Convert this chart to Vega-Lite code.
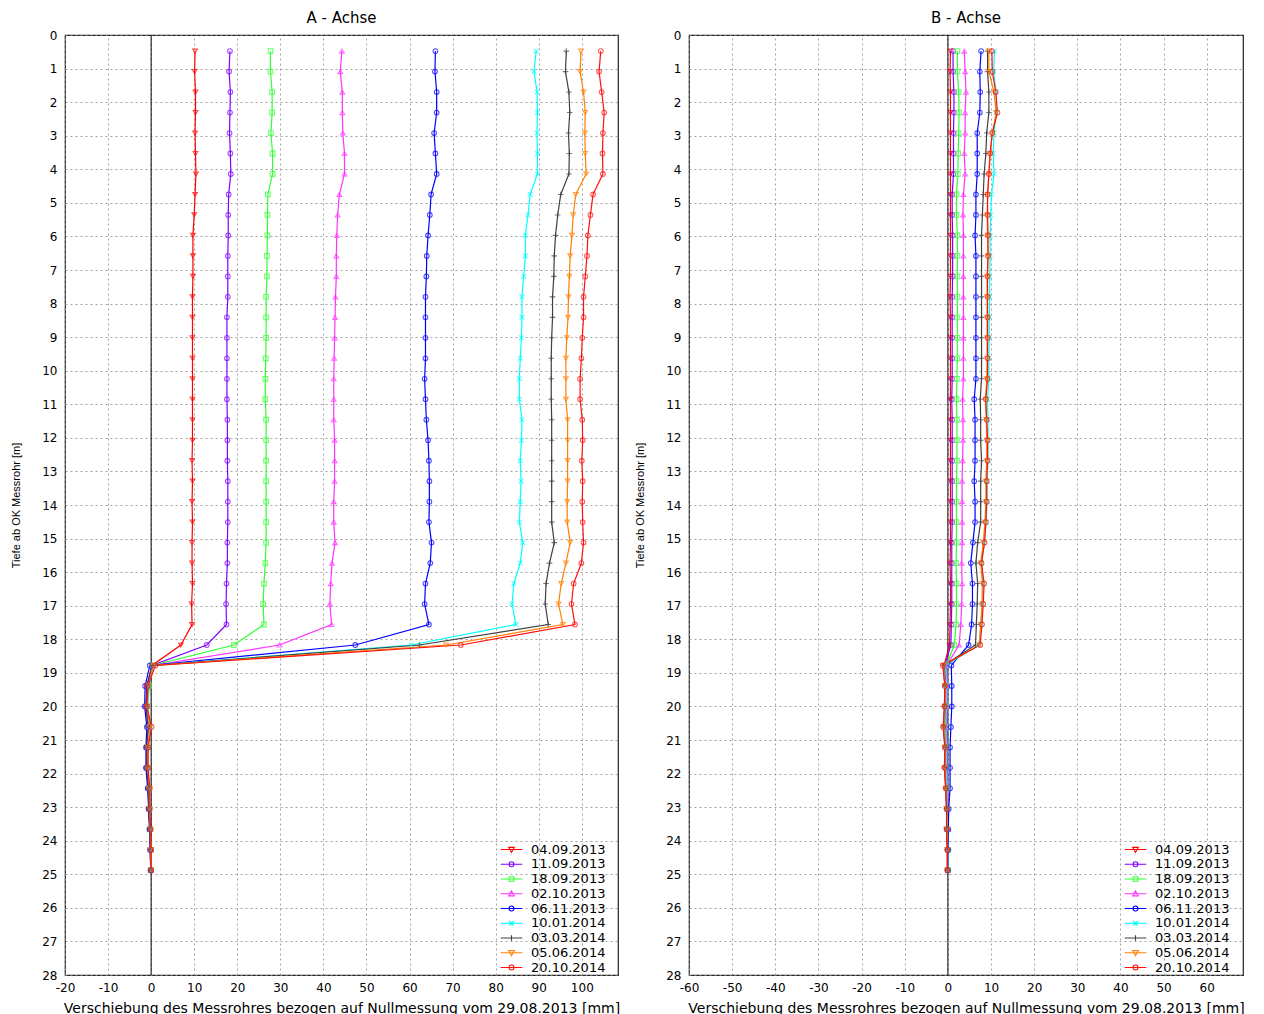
{
"$schema":"https://vega.github.io/schema/vega-lite/v6.json",
"padding":{"left":10,"top":10,"right":5,"bottom":2},
"config":{
"font":"DejaVu Sans",
"view":{"stroke":"#222","strokeWidth":1.2},
"axis":{"grid":true,"gridColor":"#8c8c8c","gridDash":[2,3],"gridWidth":0.8,"domain":false,"ticks":false,"labelFontSize":12,"labelColor":"#000","labelOverlap":false,"labelFlush":false,"titleFontWeight":"normal","titleFontSize":14,"titleColor":"#000"},
"axisX":{"labelPadding":7,"titlePadding":8},
"axisY":{"labelPadding":8,"titlePadding":20,"titleFontSize":11,"titleFont":"Liberation Sans"},
"title":{"fontSize":15,"fontWeight":"normal","offset":3,"color":"#000"},
"legend":{"title":null,"orient":"none","legendX":440,"legendY":808,"padding":0,"labelFontSize":13,"labelColor":"#000","rowPadding":0.75,"symbolSize":49,"symbolStrokeWidth":1.1,"labelOffset":13}
},
"datasets":{
"A":[
{"s":"04.09.2013","d":0.48,"v":10.2},{"s":"04.09.2013","d":1.09,"v":10.1},{"s":"04.09.2013","d":1.7,"v":10.3},{"s":"04.09.2013","d":2.31,"v":10.3},{"s":"04.09.2013","d":2.92,"v":10.2},{"s":"04.09.2013","d":3.53,"v":10.3},{"s":"04.09.2013","d":4.14,"v":10.4},{"s":"04.09.2013","d":4.75,"v":10.2},{"s":"04.09.2013","d":5.36,"v":10.0},{"s":"04.09.2013","d":5.97,"v":9.7},{"s":"04.09.2013","d":6.58,"v":9.7},{"s":"04.09.2013","d":7.19,"v":9.7},{"s":"04.09.2013","d":7.8,"v":9.6},{"s":"04.09.2013","d":8.41,"v":9.6},{"s":"04.09.2013","d":9.02,"v":9.6},{"s":"04.09.2013","d":9.63,"v":9.6},{"s":"04.09.2013","d":10.24,"v":9.6},{"s":"04.09.2013","d":10.85,"v":9.6},{"s":"04.09.2013","d":11.46,"v":9.6},{"s":"04.09.2013","d":12.07,"v":9.6},{"s":"04.09.2013","d":12.68,"v":9.5},{"s":"04.09.2013","d":13.29,"v":9.6},{"s":"04.09.2013","d":13.9,"v":9.5},{"s":"04.09.2013","d":14.51,"v":9.6},{"s":"04.09.2013","d":15.12,"v":9.5},{"s":"04.09.2013","d":15.73,"v":9.5},{"s":"04.09.2013","d":16.34,"v":9.6},{"s":"04.09.2013","d":16.95,"v":9.4},{"s":"04.09.2013","d":17.56,"v":9.5},{"s":"04.09.2013","d":18.17,"v":6.9},{"s":"04.09.2013","d":18.78,"v":0.2},{"s":"04.09.2013","d":19.39,"v":-0.9},{"s":"04.09.2013","d":20,"v":-1.1},{"s":"04.09.2013","d":20.61,"v":-0.6},{"s":"04.09.2013","d":21.22,"v":-1.0},{"s":"04.09.2013","d":21.83,"v":-1.0},{"s":"04.09.2013","d":22.44,"v":-0.6},{"s":"04.09.2013","d":23.05,"v":-0.5},{"s":"04.09.2013","d":23.66,"v":-0.3},{"s":"04.09.2013","d":24.27,"v":-0.1},{"s":"04.09.2013","d":24.88,"v":-0.1},
{"s":"11.09.2013","d":0.48,"v":18.3},{"s":"11.09.2013","d":1.09,"v":18.1},{"s":"11.09.2013","d":1.7,"v":18.4},{"s":"11.09.2013","d":2.31,"v":18.3},{"s":"11.09.2013","d":2.92,"v":18.2},{"s":"11.09.2013","d":3.53,"v":18.4},{"s":"11.09.2013","d":4.14,"v":18.5},{"s":"11.09.2013","d":4.75,"v":18.0},{"s":"11.09.2013","d":5.36,"v":17.9},{"s":"11.09.2013","d":5.97,"v":17.9},{"s":"11.09.2013","d":6.58,"v":17.8},{"s":"11.09.2013","d":7.19,"v":17.8},{"s":"11.09.2013","d":7.8,"v":17.8},{"s":"11.09.2013","d":8.41,"v":17.6},{"s":"11.09.2013","d":9.02,"v":17.6},{"s":"11.09.2013","d":9.63,"v":17.6},{"s":"11.09.2013","d":10.24,"v":17.6},{"s":"11.09.2013","d":10.85,"v":17.6},{"s":"11.09.2013","d":11.46,"v":17.7},{"s":"11.09.2013","d":12.07,"v":17.7},{"s":"11.09.2013","d":12.68,"v":17.7},{"s":"11.09.2013","d":13.29,"v":17.8},{"s":"11.09.2013","d":13.9,"v":17.8},{"s":"11.09.2013","d":14.51,"v":17.8},{"s":"11.09.2013","d":15.12,"v":17.7},{"s":"11.09.2013","d":15.73,"v":17.7},{"s":"11.09.2013","d":16.34,"v":17.5},{"s":"11.09.2013","d":16.95,"v":17.4},{"s":"11.09.2013","d":17.56,"v":17.5},{"s":"11.09.2013","d":18.17,"v":12.9},{"s":"11.09.2013","d":18.78,"v":0.2},{"s":"11.09.2013","d":19.39,"v":-0.9},{"s":"11.09.2013","d":20,"v":-1.2},{"s":"11.09.2013","d":20.61,"v":-0.7},{"s":"11.09.2013","d":21.22,"v":-1.0},{"s":"11.09.2013","d":21.83,"v":-1.1},{"s":"11.09.2013","d":22.44,"v":-0.7},{"s":"11.09.2013","d":23.05,"v":-0.5},{"s":"11.09.2013","d":23.66,"v":-0.3},{"s":"11.09.2013","d":24.27,"v":-0.2},{"s":"11.09.2013","d":24.88,"v":-0.1},
{"s":"18.09.2013","d":0.48,"v":27.7},{"s":"18.09.2013","d":1.09,"v":27.7},{"s":"18.09.2013","d":1.7,"v":28.1},{"s":"18.09.2013","d":2.31,"v":28.1},{"s":"18.09.2013","d":2.92,"v":27.8},{"s":"18.09.2013","d":3.53,"v":28.2},{"s":"18.09.2013","d":4.14,"v":28.2},{"s":"18.09.2013","d":4.75,"v":27.1},{"s":"18.09.2013","d":5.36,"v":27.0},{"s":"18.09.2013","d":5.97,"v":27.0},{"s":"18.09.2013","d":6.58,"v":26.9},{"s":"18.09.2013","d":7.19,"v":26.9},{"s":"18.09.2013","d":7.8,"v":26.7},{"s":"18.09.2013","d":8.41,"v":26.7},{"s":"18.09.2013","d":9.02,"v":26.7},{"s":"18.09.2013","d":9.63,"v":26.6},{"s":"18.09.2013","d":10.24,"v":26.5},{"s":"18.09.2013","d":10.85,"v":26.5},{"s":"18.09.2013","d":11.46,"v":26.7},{"s":"18.09.2013","d":12.07,"v":26.7},{"s":"18.09.2013","d":12.68,"v":26.7},{"s":"18.09.2013","d":13.29,"v":26.7},{"s":"18.09.2013","d":13.9,"v":26.7},{"s":"18.09.2013","d":14.51,"v":26.7},{"s":"18.09.2013","d":15.12,"v":26.7},{"s":"18.09.2013","d":15.73,"v":26.5},{"s":"18.09.2013","d":16.34,"v":26.2},{"s":"18.09.2013","d":16.95,"v":26.0},{"s":"18.09.2013","d":17.56,"v":26.2},{"s":"18.09.2013","d":18.17,"v":19.2},{"s":"18.09.2013","d":18.78,"v":0.3},{"s":"18.09.2013","d":19.39,"v":-0.5},{"s":"18.09.2013","d":20,"v":-0.9},{"s":"18.09.2013","d":20.61,"v":-0.4},{"s":"18.09.2013","d":21.22,"v":-0.8},{"s":"18.09.2013","d":21.83,"v":-0.9},{"s":"18.09.2013","d":22.44,"v":-0.5},{"s":"18.09.2013","d":23.05,"v":-0.4},{"s":"18.09.2013","d":23.66,"v":-0.2},{"s":"18.09.2013","d":24.27,"v":-0.1},{"s":"18.09.2013","d":24.88,"v":0.0},
{"s":"02.10.2013","d":0.48,"v":44.3},{"s":"02.10.2013","d":1.09,"v":43.9},{"s":"02.10.2013","d":1.7,"v":44.4},{"s":"02.10.2013","d":2.31,"v":44.4},{"s":"02.10.2013","d":2.92,"v":44.5},{"s":"02.10.2013","d":3.53,"v":44.9},{"s":"02.10.2013","d":4.14,"v":44.9},{"s":"02.10.2013","d":4.75,"v":43.7},{"s":"02.10.2013","d":5.36,"v":43.3},{"s":"02.10.2013","d":5.97,"v":43.1},{"s":"02.10.2013","d":6.58,"v":43.0},{"s":"02.10.2013","d":7.19,"v":43.0},{"s":"02.10.2013","d":7.8,"v":42.8},{"s":"02.10.2013","d":8.41,"v":42.7},{"s":"02.10.2013","d":9.02,"v":42.6},{"s":"02.10.2013","d":9.63,"v":42.5},{"s":"02.10.2013","d":10.24,"v":42.4},{"s":"02.10.2013","d":10.85,"v":42.4},{"s":"02.10.2013","d":11.46,"v":42.4},{"s":"02.10.2013","d":12.07,"v":42.6},{"s":"02.10.2013","d":12.68,"v":42.6},{"s":"02.10.2013","d":13.29,"v":42.6},{"s":"02.10.2013","d":13.9,"v":42.4},{"s":"02.10.2013","d":14.51,"v":42.4},{"s":"02.10.2013","d":15.12,"v":42.7},{"s":"02.10.2013","d":15.73,"v":42.0},{"s":"02.10.2013","d":16.34,"v":41.7},{"s":"02.10.2013","d":16.95,"v":41.5},{"s":"02.10.2013","d":17.56,"v":41.9},{"s":"02.10.2013","d":18.17,"v":29.8},{"s":"02.10.2013","d":18.78,"v":0.3},{"s":"02.10.2013","d":19.39,"v":-0.8},{"s":"02.10.2013","d":20,"v":-1.1},{"s":"02.10.2013","d":20.61,"v":-0.6},{"s":"02.10.2013","d":21.22,"v":-0.9},{"s":"02.10.2013","d":21.83,"v":-1.0},{"s":"02.10.2013","d":22.44,"v":-0.6},{"s":"02.10.2013","d":23.05,"v":-0.5},{"s":"02.10.2013","d":23.66,"v":-0.3},{"s":"02.10.2013","d":24.27,"v":-0.1},{"s":"02.10.2013","d":24.88,"v":-0.1},
{"s":"06.11.2013","d":0.48,"v":66.0},{"s":"06.11.2013","d":1.09,"v":65.9},{"s":"06.11.2013","d":1.7,"v":66.3},{"s":"06.11.2013","d":2.31,"v":66.3},{"s":"06.11.2013","d":2.92,"v":65.7},{"s":"06.11.2013","d":3.53,"v":66.0},{"s":"06.11.2013","d":4.14,"v":66.3},{"s":"06.11.2013","d":4.75,"v":65.0},{"s":"06.11.2013","d":5.36,"v":64.7},{"s":"06.11.2013","d":5.97,"v":64.3},{"s":"06.11.2013","d":6.58,"v":64.0},{"s":"06.11.2013","d":7.19,"v":63.9},{"s":"06.11.2013","d":7.8,"v":63.7},{"s":"06.11.2013","d":8.41,"v":63.7},{"s":"06.11.2013","d":9.02,"v":63.7},{"s":"06.11.2013","d":9.63,"v":63.7},{"s":"06.11.2013","d":10.24,"v":63.5},{"s":"06.11.2013","d":10.85,"v":63.7},{"s":"06.11.2013","d":11.46,"v":63.9},{"s":"06.11.2013","d":12.07,"v":64.3},{"s":"06.11.2013","d":12.68,"v":64.5},{"s":"06.11.2013","d":13.29,"v":64.6},{"s":"06.11.2013","d":13.9,"v":64.6},{"s":"06.11.2013","d":14.51,"v":64.5},{"s":"06.11.2013","d":15.12,"v":65.1},{"s":"06.11.2013","d":15.73,"v":64.8},{"s":"06.11.2013","d":16.34,"v":63.7},{"s":"06.11.2013","d":16.95,"v":63.5},{"s":"06.11.2013","d":17.56,"v":64.5},{"s":"06.11.2013","d":18.17,"v":47.4},{"s":"06.11.2013","d":18.78,"v":-0.3},{"s":"06.11.2013","d":19.39,"v":-1.4},{"s":"06.11.2013","d":20,"v":-1.5},{"s":"06.11.2013","d":20.61,"v":-1.0},{"s":"06.11.2013","d":21.22,"v":-1.2},{"s":"06.11.2013","d":21.83,"v":-1.2},{"s":"06.11.2013","d":22.44,"v":-0.8},{"s":"06.11.2013","d":23.05,"v":-0.6},{"s":"06.11.2013","d":23.66,"v":-0.4},{"s":"06.11.2013","d":24.27,"v":-0.2},{"s":"06.11.2013","d":24.88,"v":-0.1},
{"s":"10.01.2014","d":0.48,"v":89.4},{"s":"10.01.2014","d":1.09,"v":88.9},{"s":"10.01.2014","d":1.7,"v":89.6},{"s":"10.01.2014","d":2.31,"v":89.7},{"s":"10.01.2014","d":2.92,"v":89.6},{"s":"10.01.2014","d":3.53,"v":89.7},{"s":"10.01.2014","d":4.14,"v":89.7},{"s":"10.01.2014","d":4.75,"v":88.0},{"s":"10.01.2014","d":5.36,"v":87.5},{"s":"10.01.2014","d":5.97,"v":86.9},{"s":"10.01.2014","d":6.58,"v":86.9},{"s":"10.01.2014","d":7.19,"v":86.5},{"s":"10.01.2014","d":7.8,"v":86.1},{"s":"10.01.2014","d":8.41,"v":86.1},{"s":"10.01.2014","d":9.02,"v":86.0},{"s":"10.01.2014","d":9.63,"v":85.7},{"s":"10.01.2014","d":10.24,"v":85.5},{"s":"10.01.2014","d":10.85,"v":85.5},{"s":"10.01.2014","d":11.46,"v":86.1},{"s":"10.01.2014","d":12.07,"v":86.0},{"s":"10.01.2014","d":12.68,"v":85.7},{"s":"10.01.2014","d":13.29,"v":85.9},{"s":"10.01.2014","d":13.9,"v":85.7},{"s":"10.01.2014","d":14.51,"v":85.5},{"s":"10.01.2014","d":15.12,"v":86.3},{"s":"10.01.2014","d":15.73,"v":85.7},{"s":"10.01.2014","d":16.34,"v":84.2},{"s":"10.01.2014","d":16.95,"v":83.8},{"s":"10.01.2014","d":17.56,"v":84.7},{"s":"10.01.2014","d":18.17,"v":60.4},{"s":"10.01.2014","d":18.78,"v":0.4},{"s":"10.01.2014","d":19.39,"v":-0.4},{"s":"10.01.2014","d":20,"v":-0.8},{"s":"10.01.2014","d":20.61,"v":-0.4},{"s":"10.01.2014","d":21.22,"v":-0.8},{"s":"10.01.2014","d":21.83,"v":-0.8},{"s":"10.01.2014","d":22.44,"v":-0.5},{"s":"10.01.2014","d":23.05,"v":-0.4},{"s":"10.01.2014","d":23.66,"v":-0.2},{"s":"10.01.2014","d":24.27,"v":-0.1},{"s":"10.01.2014","d":24.88,"v":0.0},
{"s":"03.03.2014","d":0.48,"v":96.4},{"s":"03.03.2014","d":1.09,"v":96.2},{"s":"03.03.2014","d":1.7,"v":97.0},{"s":"03.03.2014","d":2.31,"v":97.2},{"s":"03.03.2014","d":2.92,"v":96.9},{"s":"03.03.2014","d":3.53,"v":97.1},{"s":"03.03.2014","d":4.14,"v":97.0},{"s":"03.03.2014","d":4.75,"v":95.1},{"s":"03.03.2014","d":5.36,"v":94.4},{"s":"03.03.2014","d":5.97,"v":93.9},{"s":"03.03.2014","d":6.58,"v":93.6},{"s":"03.03.2014","d":7.19,"v":93.5},{"s":"03.03.2014","d":7.8,"v":93.2},{"s":"03.03.2014","d":8.41,"v":93.2},{"s":"03.03.2014","d":9.02,"v":93.0},{"s":"03.03.2014","d":9.63,"v":92.9},{"s":"03.03.2014","d":10.24,"v":92.9},{"s":"03.03.2014","d":10.85,"v":92.9},{"s":"03.03.2014","d":11.46,"v":93.0},{"s":"03.03.2014","d":12.07,"v":93.0},{"s":"03.03.2014","d":12.68,"v":93.0},{"s":"03.03.2014","d":13.29,"v":93.0},{"s":"03.03.2014","d":13.9,"v":93.0},{"s":"03.03.2014","d":14.51,"v":93.0},{"s":"03.03.2014","d":15.12,"v":93.6},{"s":"03.03.2014","d":15.73,"v":92.5},{"s":"03.03.2014","d":16.34,"v":91.7},{"s":"03.03.2014","d":16.95,"v":91.5},{"s":"03.03.2014","d":17.56,"v":92.2},{"s":"03.03.2014","d":18.17,"v":62.3},{"s":"03.03.2014","d":18.78,"v":0.2},{"s":"03.03.2014","d":19.39,"v":-1.0},{"s":"03.03.2014","d":20,"v":-1.2},{"s":"03.03.2014","d":20.61,"v":-0.7},{"s":"03.03.2014","d":21.22,"v":-1.0},{"s":"03.03.2014","d":21.83,"v":-1.0},{"s":"03.03.2014","d":22.44,"v":-0.6},{"s":"03.03.2014","d":23.05,"v":-0.5},{"s":"03.03.2014","d":23.66,"v":-0.3},{"s":"03.03.2014","d":24.27,"v":-0.2},{"s":"03.03.2014","d":24.88,"v":-0.1},
{"s":"05.06.2014","d":0.48,"v":99.8},{"s":"05.06.2014","d":1.09,"v":99.6},{"s":"05.06.2014","d":1.7,"v":100.4},{"s":"05.06.2014","d":2.31,"v":100.8},{"s":"05.06.2014","d":2.92,"v":100.7},{"s":"05.06.2014","d":3.53,"v":100.8},{"s":"05.06.2014","d":4.14,"v":101.0},{"s":"05.06.2014","d":4.75,"v":98.6},{"s":"05.06.2014","d":5.36,"v":98.0},{"s":"05.06.2014","d":5.97,"v":97.7},{"s":"05.06.2014","d":6.58,"v":97.3},{"s":"05.06.2014","d":7.19,"v":97.1},{"s":"05.06.2014","d":7.8,"v":96.9},{"s":"05.06.2014","d":8.41,"v":96.8},{"s":"05.06.2014","d":9.02,"v":96.5},{"s":"05.06.2014","d":9.63,"v":96.3},{"s":"05.06.2014","d":10.24,"v":96.3},{"s":"05.06.2014","d":10.85,"v":96.3},{"s":"05.06.2014","d":11.46,"v":96.7},{"s":"05.06.2014","d":12.07,"v":96.7},{"s":"05.06.2014","d":12.68,"v":96.7},{"s":"05.06.2014","d":13.29,"v":96.7},{"s":"05.06.2014","d":13.9,"v":96.6},{"s":"05.06.2014","d":14.51,"v":96.6},{"s":"05.06.2014","d":15.12,"v":97.3},{"s":"05.06.2014","d":15.73,"v":96.3},{"s":"05.06.2014","d":16.34,"v":95.2},{"s":"05.06.2014","d":16.95,"v":94.6},{"s":"05.06.2014","d":17.56,"v":95.6},{"s":"05.06.2014","d":18.17,"v":68.5},{"s":"05.06.2014","d":18.78,"v":0.5},{"s":"05.06.2014","d":19.39,"v":-0.6},{"s":"05.06.2014","d":20,"v":-0.9},{"s":"05.06.2014","d":20.61,"v":-0.3},{"s":"05.06.2014","d":21.22,"v":-0.8},{"s":"05.06.2014","d":21.83,"v":-0.8},{"s":"05.06.2014","d":22.44,"v":-0.4},{"s":"05.06.2014","d":23.05,"v":-0.4},{"s":"05.06.2014","d":23.66,"v":-0.2},{"s":"05.06.2014","d":24.27,"v":-0.1},{"s":"05.06.2014","d":24.88,"v":0.0},
{"s":"20.10.2014","d":0.48,"v":104.4},{"s":"20.10.2014","d":1.09,"v":104.0},{"s":"20.10.2014","d":1.7,"v":104.6},{"s":"20.10.2014","d":2.31,"v":105.2},{"s":"20.10.2014","d":2.92,"v":104.9},{"s":"20.10.2014","d":3.53,"v":104.8},{"s":"20.10.2014","d":4.14,"v":104.9},{"s":"20.10.2014","d":4.75,"v":102.6},{"s":"20.10.2014","d":5.36,"v":102.0},{"s":"20.10.2014","d":5.97,"v":101.4},{"s":"20.10.2014","d":6.58,"v":101.2},{"s":"20.10.2014","d":7.19,"v":100.8},{"s":"20.10.2014","d":7.8,"v":100.4},{"s":"20.10.2014","d":8.41,"v":100.4},{"s":"20.10.2014","d":9.02,"v":100.1},{"s":"20.10.2014","d":9.63,"v":99.9},{"s":"20.10.2014","d":10.24,"v":99.6},{"s":"20.10.2014","d":10.85,"v":99.6},{"s":"20.10.2014","d":11.46,"v":100.1},{"s":"20.10.2014","d":12.07,"v":100.2},{"s":"20.10.2014","d":12.68,"v":100.0},{"s":"20.10.2014","d":13.29,"v":100.2},{"s":"20.10.2014","d":13.9,"v":100.1},{"s":"20.10.2014","d":14.51,"v":100.2},{"s":"20.10.2014","d":15.12,"v":100.4},{"s":"20.10.2014","d":15.73,"v":99.9},{"s":"20.10.2014","d":16.34,"v":98.1},{"s":"20.10.2014","d":16.95,"v":97.6},{"s":"20.10.2014","d":17.56,"v":98.4},{"s":"20.10.2014","d":18.17,"v":71.9},{"s":"20.10.2014","d":18.78,"v":1.0},{"s":"20.10.2014","d":19.39,"v":-0.8},{"s":"20.10.2014","d":20,"v":-1.0},{"s":"20.10.2014","d":20.61,"v":0.1},{"s":"20.10.2014","d":21.22,"v":-0.7},{"s":"20.10.2014","d":21.83,"v":-0.7},{"s":"20.10.2014","d":22.44,"v":-0.3},{"s":"20.10.2014","d":23.05,"v":-0.3},{"s":"20.10.2014","d":23.66,"v":-0.1},{"s":"20.10.2014","d":24.27,"v":0.0},{"s":"20.10.2014","d":24.88,"v":0.0}
],
"B":[
{"s":"04.09.2013","d":0.48,"v":0.6},{"s":"04.09.2013","d":1.09,"v":0.5},{"s":"04.09.2013","d":1.7,"v":0.6},{"s":"04.09.2013","d":2.31,"v":0.6},{"s":"04.09.2013","d":2.92,"v":0.6},{"s":"04.09.2013","d":3.53,"v":0.6},{"s":"04.09.2013","d":4.14,"v":0.6},{"s":"04.09.2013","d":4.75,"v":0.6},{"s":"04.09.2013","d":5.36,"v":0.6},{"s":"04.09.2013","d":5.97,"v":0.6},{"s":"04.09.2013","d":6.58,"v":0.6},{"s":"04.09.2013","d":7.19,"v":0.6},{"s":"04.09.2013","d":7.8,"v":0.5},{"s":"04.09.2013","d":8.41,"v":0.6},{"s":"04.09.2013","d":9.02,"v":0.6},{"s":"04.09.2013","d":9.63,"v":0.6},{"s":"04.09.2013","d":10.24,"v":0.6},{"s":"04.09.2013","d":10.85,"v":0.6},{"s":"04.09.2013","d":11.46,"v":0.6},{"s":"04.09.2013","d":12.07,"v":0.6},{"s":"04.09.2013","d":12.68,"v":0.6},{"s":"04.09.2013","d":13.29,"v":0.6},{"s":"04.09.2013","d":13.9,"v":0.6},{"s":"04.09.2013","d":14.51,"v":0.6},{"s":"04.09.2013","d":15.12,"v":0.6},{"s":"04.09.2013","d":15.73,"v":0.5},{"s":"04.09.2013","d":16.34,"v":0.6},{"s":"04.09.2013","d":16.95,"v":0.6},{"s":"04.09.2013","d":17.56,"v":0.5},{"s":"04.09.2013","d":18.17,"v":0.4},{"s":"04.09.2013","d":18.78,"v":-0.9},{"s":"04.09.2013","d":19.39,"v":-0.6},{"s":"04.09.2013","d":20,"v":-0.7},{"s":"04.09.2013","d":20.61,"v":-0.9},{"s":"04.09.2013","d":21.22,"v":-0.6},{"s":"04.09.2013","d":21.83,"v":-0.7},{"s":"04.09.2013","d":22.44,"v":-0.4},{"s":"04.09.2013","d":23.05,"v":-0.3},{"s":"04.09.2013","d":23.66,"v":-0.3},{"s":"04.09.2013","d":24.27,"v":-0.1},{"s":"04.09.2013","d":24.88,"v":-0.1},
{"s":"11.09.2013","d":0.48,"v":1.2},{"s":"11.09.2013","d":1.09,"v":1.2},{"s":"11.09.2013","d":1.7,"v":1.4},{"s":"11.09.2013","d":2.31,"v":1.4},{"s":"11.09.2013","d":2.92,"v":1.3},{"s":"11.09.2013","d":3.53,"v":1.3},{"s":"11.09.2013","d":4.14,"v":1.3},{"s":"11.09.2013","d":4.75,"v":1.0},{"s":"11.09.2013","d":5.36,"v":1.0},{"s":"11.09.2013","d":5.97,"v":1.1},{"s":"11.09.2013","d":6.58,"v":1.1},{"s":"11.09.2013","d":7.19,"v":1.1},{"s":"11.09.2013","d":7.8,"v":1.0},{"s":"11.09.2013","d":8.41,"v":1.0},{"s":"11.09.2013","d":9.02,"v":1.0},{"s":"11.09.2013","d":9.63,"v":1.0},{"s":"11.09.2013","d":10.24,"v":1.0},{"s":"11.09.2013","d":10.85,"v":0.9},{"s":"11.09.2013","d":11.46,"v":1.0},{"s":"11.09.2013","d":12.07,"v":1.0},{"s":"11.09.2013","d":12.68,"v":1.0},{"s":"11.09.2013","d":13.29,"v":1.0},{"s":"11.09.2013","d":13.9,"v":1.0},{"s":"11.09.2013","d":14.51,"v":1.0},{"s":"11.09.2013","d":15.12,"v":0.9},{"s":"11.09.2013","d":15.73,"v":0.9},{"s":"11.09.2013","d":16.34,"v":0.9},{"s":"11.09.2013","d":16.95,"v":0.9},{"s":"11.09.2013","d":17.56,"v":0.8},{"s":"11.09.2013","d":18.17,"v":0.7},{"s":"11.09.2013","d":18.78,"v":-0.7},{"s":"11.09.2013","d":19.39,"v":-0.4},{"s":"11.09.2013","d":20,"v":-0.5},{"s":"11.09.2013","d":20.61,"v":-0.6},{"s":"11.09.2013","d":21.22,"v":-0.4},{"s":"11.09.2013","d":21.83,"v":-0.5},{"s":"11.09.2013","d":22.44,"v":-0.3},{"s":"11.09.2013","d":23.05,"v":-0.2},{"s":"11.09.2013","d":23.66,"v":-0.2},{"s":"11.09.2013","d":24.27,"v":-0.1},{"s":"11.09.2013","d":24.88,"v":-0.1},
{"s":"18.09.2013","d":0.48,"v":2.2},{"s":"18.09.2013","d":1.09,"v":2.2},{"s":"18.09.2013","d":1.7,"v":2.5},{"s":"18.09.2013","d":2.31,"v":2.6},{"s":"18.09.2013","d":2.92,"v":2.5},{"s":"18.09.2013","d":3.53,"v":2.4},{"s":"18.09.2013","d":4.14,"v":2.3},{"s":"18.09.2013","d":4.75,"v":2.0},{"s":"18.09.2013","d":5.36,"v":2.0},{"s":"18.09.2013","d":5.97,"v":2.2},{"s":"18.09.2013","d":6.58,"v":2.2},{"s":"18.09.2013","d":7.19,"v":2.2},{"s":"18.09.2013","d":7.8,"v":2.2},{"s":"18.09.2013","d":8.41,"v":2.2},{"s":"18.09.2013","d":9.02,"v":2.2},{"s":"18.09.2013","d":9.63,"v":2.2},{"s":"18.09.2013","d":10.24,"v":2.1},{"s":"18.09.2013","d":10.85,"v":2.0},{"s":"18.09.2013","d":11.46,"v":2.1},{"s":"18.09.2013","d":12.07,"v":2.1},{"s":"18.09.2013","d":12.68,"v":2.1},{"s":"18.09.2013","d":13.29,"v":2.0},{"s":"18.09.2013","d":13.9,"v":2.0},{"s":"18.09.2013","d":14.51,"v":2.0},{"s":"18.09.2013","d":15.12,"v":2.0},{"s":"18.09.2013","d":15.73,"v":1.9},{"s":"18.09.2013","d":16.34,"v":2.0},{"s":"18.09.2013","d":16.95,"v":2.0},{"s":"18.09.2013","d":17.56,"v":1.9},{"s":"18.09.2013","d":18.17,"v":1.5},{"s":"18.09.2013","d":18.78,"v":-0.4},{"s":"18.09.2013","d":19.39,"v":-0.2},{"s":"18.09.2013","d":20,"v":-0.3},{"s":"18.09.2013","d":20.61,"v":-0.4},{"s":"18.09.2013","d":21.22,"v":-0.3},{"s":"18.09.2013","d":21.83,"v":-0.3},{"s":"18.09.2013","d":22.44,"v":-0.2},{"s":"18.09.2013","d":23.05,"v":-0.1},{"s":"18.09.2013","d":23.66,"v":-0.1},{"s":"18.09.2013","d":24.27,"v":0.0},{"s":"18.09.2013","d":24.88,"v":0.0},
{"s":"02.10.2013","d":0.48,"v":3.8},{"s":"02.10.2013","d":1.09,"v":4.0},{"s":"02.10.2013","d":1.7,"v":4.2},{"s":"02.10.2013","d":2.31,"v":4.0},{"s":"02.10.2013","d":2.92,"v":4.0},{"s":"02.10.2013","d":3.53,"v":3.8},{"s":"02.10.2013","d":4.14,"v":4.0},{"s":"02.10.2013","d":4.75,"v":3.6},{"s":"02.10.2013","d":5.36,"v":3.5},{"s":"02.10.2013","d":5.97,"v":3.6},{"s":"02.10.2013","d":6.58,"v":3.6},{"s":"02.10.2013","d":7.19,"v":3.6},{"s":"02.10.2013","d":7.8,"v":3.6},{"s":"02.10.2013","d":8.41,"v":3.6},{"s":"02.10.2013","d":9.02,"v":3.6},{"s":"02.10.2013","d":9.63,"v":3.6},{"s":"02.10.2013","d":10.24,"v":3.6},{"s":"02.10.2013","d":10.85,"v":3.4},{"s":"02.10.2013","d":11.46,"v":3.5},{"s":"02.10.2013","d":12.07,"v":3.5},{"s":"02.10.2013","d":12.68,"v":3.4},{"s":"02.10.2013","d":13.29,"v":3.3},{"s":"02.10.2013","d":13.9,"v":3.3},{"s":"02.10.2013","d":14.51,"v":3.3},{"s":"02.10.2013","d":15.12,"v":3.3},{"s":"02.10.2013","d":15.73,"v":3.2},{"s":"02.10.2013","d":16.34,"v":3.3},{"s":"02.10.2013","d":16.95,"v":3.2},{"s":"02.10.2013","d":17.56,"v":3.0},{"s":"02.10.2013","d":18.17,"v":2.6},{"s":"02.10.2013","d":18.78,"v":-0.3},{"s":"02.10.2013","d":19.39,"v":-0.1},{"s":"02.10.2013","d":20,"v":-0.2},{"s":"02.10.2013","d":20.61,"v":-0.3},{"s":"02.10.2013","d":21.22,"v":-0.2},{"s":"02.10.2013","d":21.83,"v":-0.2},{"s":"02.10.2013","d":22.44,"v":-0.1},{"s":"02.10.2013","d":23.05,"v":-0.1},{"s":"02.10.2013","d":23.66,"v":0.0},{"s":"02.10.2013","d":24.27,"v":0.0},{"s":"02.10.2013","d":24.88,"v":0.0},
{"s":"06.11.2013","d":0.48,"v":7.7},{"s":"06.11.2013","d":1.09,"v":7.4},{"s":"06.11.2013","d":1.7,"v":7.5},{"s":"06.11.2013","d":2.31,"v":7.4},{"s":"06.11.2013","d":2.92,"v":6.8},{"s":"06.11.2013","d":3.53,"v":6.8},{"s":"06.11.2013","d":4.14,"v":6.8},{"s":"06.11.2013","d":4.75,"v":6.5},{"s":"06.11.2013","d":5.36,"v":6.5},{"s":"06.11.2013","d":5.97,"v":6.3},{"s":"06.11.2013","d":6.58,"v":6.5},{"s":"06.11.2013","d":7.19,"v":6.5},{"s":"06.11.2013","d":7.8,"v":6.5},{"s":"06.11.2013","d":8.41,"v":6.5},{"s":"06.11.2013","d":9.02,"v":6.5},{"s":"06.11.2013","d":9.63,"v":6.5},{"s":"06.11.2013","d":10.24,"v":6.5},{"s":"06.11.2013","d":10.85,"v":6.1},{"s":"06.11.2013","d":11.46,"v":6.3},{"s":"06.11.2013","d":12.07,"v":6.3},{"s":"06.11.2013","d":12.68,"v":6.3},{"s":"06.11.2013","d":13.29,"v":6.1},{"s":"06.11.2013","d":13.9,"v":6.3},{"s":"06.11.2013","d":14.51,"v":6.3},{"s":"06.11.2013","d":15.12,"v":5.8},{"s":"06.11.2013","d":15.73,"v":5.3},{"s":"06.11.2013","d":16.34,"v":5.7},{"s":"06.11.2013","d":16.95,"v":5.7},{"s":"06.11.2013","d":17.56,"v":5.5},{"s":"06.11.2013","d":18.17,"v":4.8},{"s":"06.11.2013","d":18.78,"v":0.8},{"s":"06.11.2013","d":19.39,"v":0.9},{"s":"06.11.2013","d":20,"v":0.9},{"s":"06.11.2013","d":20.61,"v":0.7},{"s":"06.11.2013","d":21.22,"v":0.5},{"s":"06.11.2013","d":21.83,"v":0.5},{"s":"06.11.2013","d":22.44,"v":0.5},{"s":"06.11.2013","d":23.05,"v":0.2},{"s":"06.11.2013","d":23.66,"v":0.1},{"s":"06.11.2013","d":24.27,"v":0.1},{"s":"06.11.2013","d":24.88,"v":0.0},
{"s":"10.01.2014","d":0.48,"v":10.8},{"s":"10.01.2014","d":1.09,"v":10.6},{"s":"10.01.2014","d":1.7,"v":11.2},{"s":"10.01.2014","d":2.31,"v":11.2},{"s":"10.01.2014","d":2.92,"v":10.7},{"s":"10.01.2014","d":3.53,"v":10.5},{"s":"10.01.2014","d":4.14,"v":10.7},{"s":"10.01.2014","d":4.75,"v":10.1},{"s":"10.01.2014","d":5.36,"v":9.9},{"s":"10.01.2014","d":5.97,"v":9.8},{"s":"10.01.2014","d":6.58,"v":9.8},{"s":"10.01.2014","d":7.19,"v":9.7},{"s":"10.01.2014","d":7.8,"v":9.7},{"s":"10.01.2014","d":8.41,"v":9.6},{"s":"10.01.2014","d":9.02,"v":9.6},{"s":"10.01.2014","d":9.63,"v":9.5},{"s":"10.01.2014","d":10.24,"v":9.5},{"s":"10.01.2014","d":10.85,"v":9.2},{"s":"10.01.2014","d":11.46,"v":9.3},{"s":"10.01.2014","d":12.07,"v":9.3},{"s":"10.01.2014","d":12.68,"v":9.3},{"s":"10.01.2014","d":13.29,"v":9.1},{"s":"10.01.2014","d":13.9,"v":9.1},{"s":"10.01.2014","d":14.51,"v":8.9},{"s":"10.01.2014","d":15.12,"v":8.4},{"s":"10.01.2014","d":15.73,"v":7.8},{"s":"10.01.2014","d":16.34,"v":8.2},{"s":"10.01.2014","d":16.95,"v":8.0},{"s":"10.01.2014","d":17.56,"v":7.7},{"s":"10.01.2014","d":18.17,"v":7.2},{"s":"10.01.2014","d":18.78,"v":-0.5},{"s":"10.01.2014","d":19.39,"v":-0.3},{"s":"10.01.2014","d":20,"v":-0.4},{"s":"10.01.2014","d":20.61,"v":-0.5},{"s":"10.01.2014","d":21.22,"v":-0.4},{"s":"10.01.2014","d":21.83,"v":-0.4},{"s":"10.01.2014","d":22.44,"v":-0.2},{"s":"10.01.2014","d":23.05,"v":-0.2},{"s":"10.01.2014","d":23.66,"v":-0.1},{"s":"10.01.2014","d":24.27,"v":0.0},{"s":"10.01.2014","d":24.88,"v":0.0},
{"s":"03.03.2014","d":0.48,"v":9.2},{"s":"03.03.2014","d":1.09,"v":9.2},{"s":"03.03.2014","d":1.7,"v":9.5},{"s":"03.03.2014","d":2.31,"v":9.5},{"s":"03.03.2014","d":2.92,"v":9.0},{"s":"03.03.2014","d":3.53,"v":8.8},{"s":"03.03.2014","d":4.14,"v":8.4},{"s":"03.03.2014","d":4.75,"v":8.2},{"s":"03.03.2014","d":5.36,"v":8.0},{"s":"03.03.2014","d":5.97,"v":7.8},{"s":"03.03.2014","d":6.58,"v":7.8},{"s":"03.03.2014","d":7.19,"v":7.8},{"s":"03.03.2014","d":7.8,"v":7.8},{"s":"03.03.2014","d":8.41,"v":7.8},{"s":"03.03.2014","d":9.02,"v":7.8},{"s":"03.03.2014","d":9.63,"v":7.8},{"s":"03.03.2014","d":10.24,"v":7.8},{"s":"03.03.2014","d":10.85,"v":7.5},{"s":"03.03.2014","d":11.46,"v":7.6},{"s":"03.03.2014","d":12.07,"v":7.6},{"s":"03.03.2014","d":12.68,"v":7.8},{"s":"03.03.2014","d":13.29,"v":7.6},{"s":"03.03.2014","d":13.9,"v":7.6},{"s":"03.03.2014","d":14.51,"v":7.6},{"s":"03.03.2014","d":15.12,"v":6.9},{"s":"03.03.2014","d":15.73,"v":6.5},{"s":"03.03.2014","d":16.34,"v":6.9},{"s":"03.03.2014","d":16.95,"v":6.8},{"s":"03.03.2014","d":17.56,"v":6.6},{"s":"03.03.2014","d":18.17,"v":6.4},{"s":"03.03.2014","d":18.78,"v":-1.0},{"s":"03.03.2014","d":19.39,"v":-0.7},{"s":"03.03.2014","d":20,"v":-0.8},{"s":"03.03.2014","d":20.61,"v":-1.0},{"s":"03.03.2014","d":21.22,"v":-0.7},{"s":"03.03.2014","d":21.83,"v":-0.8},{"s":"03.03.2014","d":22.44,"v":-0.5},{"s":"03.03.2014","d":23.05,"v":-0.3},{"s":"03.03.2014","d":23.66,"v":-0.3},{"s":"03.03.2014","d":24.27,"v":-0.1},{"s":"03.03.2014","d":24.88,"v":-0.1},
{"s":"05.06.2014","d":0.48,"v":9.5},{"s":"05.06.2014","d":1.09,"v":9.5},{"s":"05.06.2014","d":1.7,"v":10.7},{"s":"05.06.2014","d":2.31,"v":11.2},{"s":"05.06.2014","d":2.92,"v":10.3},{"s":"05.06.2014","d":3.53,"v":9.8},{"s":"05.06.2014","d":4.14,"v":9.5},{"s":"05.06.2014","d":4.75,"v":9.2},{"s":"05.06.2014","d":5.36,"v":9.1},{"s":"05.06.2014","d":5.97,"v":9.2},{"s":"05.06.2014","d":6.58,"v":9.3},{"s":"05.06.2014","d":7.19,"v":9.1},{"s":"05.06.2014","d":7.8,"v":9.1},{"s":"05.06.2014","d":8.41,"v":9.1},{"s":"05.06.2014","d":9.02,"v":9.1},{"s":"05.06.2014","d":9.63,"v":9.1},{"s":"05.06.2014","d":10.24,"v":9.0},{"s":"05.06.2014","d":10.85,"v":8.7},{"s":"05.06.2014","d":11.46,"v":8.9},{"s":"05.06.2014","d":12.07,"v":9.0},{"s":"05.06.2014","d":12.68,"v":9.0},{"s":"05.06.2014","d":13.29,"v":8.8},{"s":"05.06.2014","d":13.9,"v":8.8},{"s":"05.06.2014","d":14.51,"v":8.6},{"s":"05.06.2014","d":15.12,"v":8.2},{"s":"05.06.2014","d":15.73,"v":7.6},{"s":"05.06.2014","d":16.34,"v":8.0},{"s":"05.06.2014","d":16.95,"v":7.9},{"s":"05.06.2014","d":17.56,"v":7.6},{"s":"05.06.2014","d":18.17,"v":7.3},{"s":"05.06.2014","d":18.78,"v":-1.0},{"s":"05.06.2014","d":19.39,"v":-0.6},{"s":"05.06.2014","d":20,"v":-0.7},{"s":"05.06.2014","d":20.61,"v":-0.9},{"s":"05.06.2014","d":21.22,"v":-0.6},{"s":"05.06.2014","d":21.83,"v":-0.7},{"s":"05.06.2014","d":22.44,"v":-0.4},{"s":"05.06.2014","d":23.05,"v":-0.3},{"s":"05.06.2014","d":23.66,"v":-0.2},{"s":"05.06.2014","d":24.27,"v":-0.1},{"s":"05.06.2014","d":24.88,"v":-0.1},
{"s":"20.10.2014","d":0.48,"v":10.2},{"s":"20.10.2014","d":1.09,"v":10.3},{"s":"20.10.2014","d":1.7,"v":11.1},{"s":"20.10.2014","d":2.31,"v":11.5},{"s":"20.10.2014","d":2.92,"v":10.3},{"s":"20.10.2014","d":3.53,"v":9.8},{"s":"20.10.2014","d":4.14,"v":9.5},{"s":"20.10.2014","d":4.75,"v":9.2},{"s":"20.10.2014","d":5.36,"v":9.2},{"s":"20.10.2014","d":5.97,"v":9.3},{"s":"20.10.2014","d":6.58,"v":9.3},{"s":"20.10.2014","d":7.19,"v":9.2},{"s":"20.10.2014","d":7.8,"v":9.2},{"s":"20.10.2014","d":8.41,"v":9.2},{"s":"20.10.2014","d":9.02,"v":9.2},{"s":"20.10.2014","d":9.63,"v":9.2},{"s":"20.10.2014","d":10.24,"v":9.2},{"s":"20.10.2014","d":10.85,"v":8.8},{"s":"20.10.2014","d":11.46,"v":9.0},{"s":"20.10.2014","d":12.07,"v":9.2},{"s":"20.10.2014","d":12.68,"v":9.2},{"s":"20.10.2014","d":13.29,"v":9.0},{"s":"20.10.2014","d":13.9,"v":9.0},{"s":"20.10.2014","d":14.51,"v":8.8},{"s":"20.10.2014","d":15.12,"v":8.5},{"s":"20.10.2014","d":15.73,"v":7.8},{"s":"20.10.2014","d":16.34,"v":8.4},{"s":"20.10.2014","d":16.95,"v":8.2},{"s":"20.10.2014","d":17.56,"v":7.9},{"s":"20.10.2014","d":18.17,"v":7.5},{"s":"20.10.2014","d":18.78,"v":-1.2},{"s":"20.10.2014","d":19.39,"v":-0.7},{"s":"20.10.2014","d":20,"v":-0.8},{"s":"20.10.2014","d":20.61,"v":-1.1},{"s":"20.10.2014","d":21.22,"v":-0.7},{"s":"20.10.2014","d":21.83,"v":-0.8},{"s":"20.10.2014","d":22.44,"v":-0.5},{"s":"20.10.2014","d":23.05,"v":-0.3},{"s":"20.10.2014","d":23.66,"v":-0.3},{"s":"20.10.2014","d":24.27,"v":-0.1},{"s":"20.10.2014","d":24.88,"v":-0.1}
]
},
"spacing":13,
"resolve":{"scale":{"x":"independent","color":"independent","shape":"independent"},"legend":{"color":"independent","shape":"independent"}},
"hconcat":[
{
"width":553,"height":940,
"title":"A - Achse",
"layer":[
{"data":{"values":[{}]},"mark":{"type":"rule","color":"#000","strokeWidth":1},"encoding":{"x":{"datum":0,"type":"quantitative","axis":{"values":[-20,-10,0,10,20,30,40,50,60,70,80,90,100],"labelExpr":"datum.value + ''","title":"Verschiebung des Messrohres bezogen auf Nullmessung vom 29.08.2013 [mm]"}}}},
{"data":{"name":"A"},"mark":{"type":"line","strokeWidth":1.2},
"encoding":{
"x":{"field":"v","type":"quantitative","scale":{"domain":[-20,108.4],"nice":false,"zero":false},"axis":{"values":[-20,-10,0,10,20,30,40,50,60,70,80,90,100],"labelExpr":"datum.value + ''","title":"Verschiebung des Messrohres bezogen auf Nullmessung vom 29.08.2013 [mm]"}},
"y":{"field":"d","type":"quantitative","scale":{"domain":[0,28],"reverse":true,"nice":false,"zero":false},"axis":{"values":[0,1,2,3,4,5,6,7,8,9,10,11,12,13,14,15,16,17,18,19,20,21,22,23,24,25,26,27,28],"labelOverlap":false,"title":"Tiefe ab OK Messrohr [m]"}},
"order":{"field":"d","type":"quantitative"},
"color":{"field":"s","type":"nominal","scale":{"domain":["04.09.2013","11.09.2013","18.09.2013","02.10.2013","06.11.2013","10.01.2014","03.03.2014","05.06.2014","20.10.2014"],"range":["#ff0000","#8000ff","#33ff33","#ff33ff","#0000ff","#00ffff","#404040","#ff8000","#ff1010"]},
"legend":{"encode":{"symbols":{"update":{"fill":{"value":"transparent"},"shape":{"signal":"['M-3.1,0L3.1,0M-0.8,-0.6L0.8,-0.6L0,0.8Z','M-3.1,0L3.1,0M-0.7,0A0.7,0.7 0 1,0 0.7,0A0.7,0.7 0 1,0 -0.7,0','M-3.1,0L3.1,0M-0.65,-0.65L0.65,-0.65L0.65,0.65L-0.65,0.65Z','M-3.1,0L3.1,0M-0.8,0.6L0.8,0.6L0,-0.8Z','M-3.1,0L3.1,0M-0.7,0A0.7,0.7 0 1,0 0.7,0A0.7,0.7 0 1,0 -0.7,0','M-3.1,0L3.1,0M-0.7,-0.7L0.7,0.7M-0.7,0.7L0.7,-0.7','M-3.1,0L3.1,0M0,-0.8L0,0.8','M-3.1,0L3.1,0M-0.8,-0.6L0.8,-0.6L0,0.8Z','M-3.1,0L3.1,0M-0.7,0A0.7,0.7 0 1,0 0.7,0A0.7,0.7 0 1,0 -0.7,0'][indexof(['04.09.2013','11.09.2013','18.09.2013','02.10.2013','06.11.2013','10.01.2014','03.03.2014','05.06.2014','20.10.2014'],datum.value)]"}}}}}}
}},
{"data":{"name":"A"},"mark":{"type":"point","filled":false,"size":22,"strokeWidth":1.1},
"encoding":{
"x":{"field":"v","type":"quantitative","axis":{"values":[-20,-10,0,10,20,30,40,50,60,70,80,90,100],"labelExpr":"datum.value + ''","title":"Verschiebung des Messrohres bezogen auf Nullmessung vom 29.08.2013 [mm]"}},
"y":{"field":"d","type":"quantitative","axis":{"values":[0,1,2,3,4,5,6,7,8,9,10,11,12,13,14,15,16,17,18,19,20,21,22,23,24,25,26,27,28],"labelOverlap":false,"title":"Tiefe ab OK Messrohr [m]"}},
"color":{"field":"s","type":"nominal"},
"shape":{"field":"s","type":"nominal","scale":{"domain":["02.10.2013","03.03.2014","04.09.2013","05.06.2014","06.11.2013","10.01.2014","11.09.2013","18.09.2013","20.10.2014"],"range":["triangle-up","M-1.2,0L1.2,0M0,-1.2L0,1.2","triangle-down","triangle-down","circle","M-1,-1L1,1M-1,1L1,-1","circle","square","circle"]},"legend":null}
}}
]
},
{
"width":554,"height":940,
"title":"B - Achse",
"layer":[
{"data":{"values":[{}]},"mark":{"type":"rule","color":"#000","strokeWidth":1},"encoding":{"x":{"datum":0,"type":"quantitative","axis":{"values":[-60,-50,-40,-30,-20,-10,0,10,20,30,40,50,60],"labelExpr":"datum.value + ''","title":"Verschiebung des Messrohres bezogen auf Nullmessung vom 29.08.2013 [mm]"}}}},
{"data":{"name":"B"},"mark":{"type":"line","strokeWidth":1.2},
"encoding":{
"x":{"field":"v","type":"quantitative","scale":{"domain":[-60,68.4],"nice":false,"zero":false},"axis":{"values":[-60,-50,-40,-30,-20,-10,0,10,20,30,40,50,60],"labelExpr":"datum.value + ''","title":"Verschiebung des Messrohres bezogen auf Nullmessung vom 29.08.2013 [mm]"}},
"y":{"field":"d","type":"quantitative","scale":{"domain":[0,28],"reverse":true,"nice":false,"zero":false},"axis":{"values":[0,1,2,3,4,5,6,7,8,9,10,11,12,13,14,15,16,17,18,19,20,21,22,23,24,25,26,27,28],"labelOverlap":false,"title":"Tiefe ab OK Messrohr [m]"}},
"order":{"field":"d","type":"quantitative"},
"color":{"field":"s","type":"nominal","scale":{"domain":["04.09.2013","11.09.2013","18.09.2013","02.10.2013","06.11.2013","10.01.2014","03.03.2014","05.06.2014","20.10.2014"],"range":["#ff0000","#8000ff","#33ff33","#ff33ff","#0000ff","#00ffff","#404040","#ff8000","#ff1010"]},
"legend":{"encode":{"symbols":{"update":{"fill":{"value":"transparent"},"shape":{"signal":"['M-3.1,0L3.1,0M-0.8,-0.6L0.8,-0.6L0,0.8Z','M-3.1,0L3.1,0M-0.7,0A0.7,0.7 0 1,0 0.7,0A0.7,0.7 0 1,0 -0.7,0','M-3.1,0L3.1,0M-0.65,-0.65L0.65,-0.65L0.65,0.65L-0.65,0.65Z','M-3.1,0L3.1,0M-0.8,0.6L0.8,0.6L0,-0.8Z','M-3.1,0L3.1,0M-0.7,0A0.7,0.7 0 1,0 0.7,0A0.7,0.7 0 1,0 -0.7,0','M-3.1,0L3.1,0M-0.7,-0.7L0.7,0.7M-0.7,0.7L0.7,-0.7','M-3.1,0L3.1,0M0,-0.8L0,0.8','M-3.1,0L3.1,0M-0.8,-0.6L0.8,-0.6L0,0.8Z','M-3.1,0L3.1,0M-0.7,0A0.7,0.7 0 1,0 0.7,0A0.7,0.7 0 1,0 -0.7,0'][indexof(['04.09.2013','11.09.2013','18.09.2013','02.10.2013','06.11.2013','10.01.2014','03.03.2014','05.06.2014','20.10.2014'],datum.value)]"}}}}}}
}},
{"data":{"name":"B"},"mark":{"type":"point","filled":false,"size":22,"strokeWidth":1.1},
"encoding":{
"x":{"field":"v","type":"quantitative","axis":{"values":[-60,-50,-40,-30,-20,-10,0,10,20,30,40,50,60],"labelExpr":"datum.value + ''","title":"Verschiebung des Messrohres bezogen auf Nullmessung vom 29.08.2013 [mm]"}},
"y":{"field":"d","type":"quantitative","axis":{"values":[0,1,2,3,4,5,6,7,8,9,10,11,12,13,14,15,16,17,18,19,20,21,22,23,24,25,26,27,28],"labelOverlap":false,"title":"Tiefe ab OK Messrohr [m]"}},
"color":{"field":"s","type":"nominal"},
"shape":{"field":"s","type":"nominal","scale":{"domain":["02.10.2013","03.03.2014","04.09.2013","05.06.2014","06.11.2013","10.01.2014","11.09.2013","18.09.2013","20.10.2014"],"range":["triangle-up","M-1.2,0L1.2,0M0,-1.2L0,1.2","triangle-down","triangle-down","circle","M-1,-1L1,1M-1,1L1,-1","circle","square","circle"]},"legend":null}
}}
]
}
]
}
